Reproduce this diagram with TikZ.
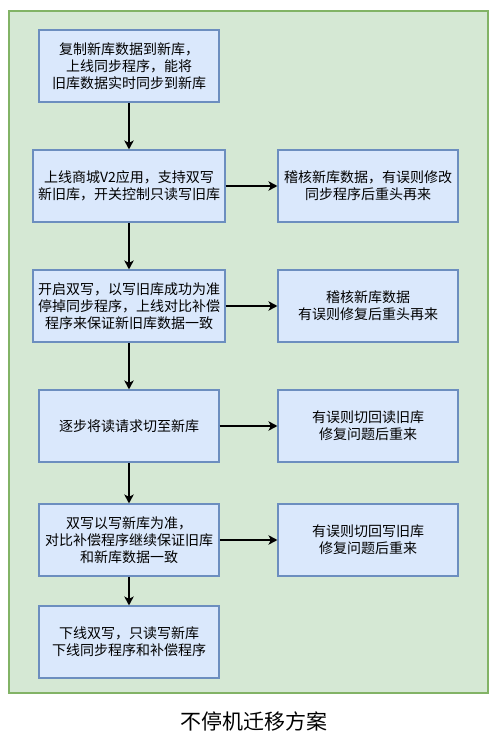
\documentclass[tikz,border=0pt]{standalone}
\usepackage{fontspec}
\newfontfamily\cjk{Noto Sans CJK SC}
\usetikzlibrary{arrows.meta,positioning}
\definecolor{framefill}{HTML}{D5E8D4}
\definecolor{frameline}{HTML}{82B366}
\definecolor{boxfill}{HTML}{DAE8FC}
\definecolor{boxline}{HTML}{6C8EBF}
\tikzset{
  stepbox/.style={draw=boxline, fill=boxfill, line width=1.2pt, align=center,
    minimum width=180pt, minimum height=72pt, inner sep=2pt,
    font=\cjk\fontsize{14pt}{17pt}\selectfont},
  widebox/.style={stepbox, minimum width=192pt},
  flow/.style={-{Stealth[length=9pt,width=9.5pt,inset=2.5pt]}, line width=1.3pt}
}
\begin{document}
\begin{tikzpicture}[x=1pt,y=-1pt]
  \useasboundingbox (0,0) rectangle (502,741);
  \draw[draw=frameline, fill=framefill, line width=1.2pt] (9,11) rectangle (488,693);
  % left column
  \node[stepbox] (copy) at (129,66) {复制新库数据到新库，\\上线同步程序，能将\\旧库数据实时同步到新库};
  \node[widebox] (app) at (129,186) {上线商城V2应用，支持双写\\新旧库，开关控制只读写旧库};
  \node[widebox] (dual) at (129,306) {开启双写，以写旧库成功为准\\停掉同步程序，上线对比补偿\\程序来保证新旧库数据一致};
  \node[stepbox] (read) at (129,426) {逐步将读请求切至新库};
  \node[stepbox] (write) at (129,540) {双写以写新库为准，\\对比补偿程序继续保证旧库\\和新库数据一致};
  \node[stepbox] (done) at (129,642) {下线双写，只读写新库\\下线同步程序和补偿程序};
  % right column
  \node[stepbox] (check) at (368,186) {稽核新库数据，有误则修改\\同步程序后重头再来};
  \node[stepbox] (fix) at (368,306) {稽核新库数据\\有误则修复后重头再来};
  \node[stepbox] (backread) at (368,426) {有误则切回读旧库\\修复问题后重来};
  \node[stepbox] (backwrite) at (368,540) {有误则切回写旧库\\修复问题后重来};
  % arrows
  \draw[flow] (copy) -- (app);
  \draw[flow] (app) -- (dual);
  \draw[flow] (dual) -- (read);
  \draw[flow] (read) -- (write);
  \draw[flow] (write) -- (done);
  \draw[flow] (app) -- (check);
  \draw[flow] (dual) -- (fix);
  \draw[flow] (read) -- (backread);
  \draw[flow] (write) -- (backwrite);
  \node[font=\cjk\fontsize{21pt}{25pt}\selectfont] (title) at (254,721) {不停机迁移方案};
\end{tikzpicture}
\end{document}
